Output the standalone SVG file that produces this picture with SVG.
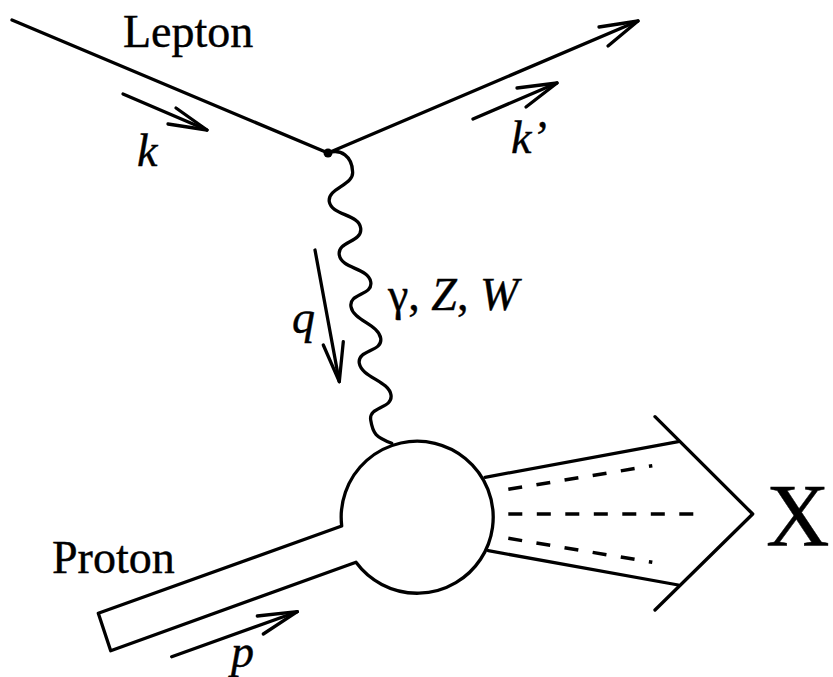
<svg xmlns="http://www.w3.org/2000/svg" width="833" height="677" viewBox="0 0 833 677">
<style>
.ln{fill:none;stroke:#000;stroke-width:3.3;stroke-linecap:round;stroke-linejoin:round}
.ds{fill:none;stroke:#000;stroke-width:3.5;stroke-dasharray:14 14.5}
.t{font-family:"Liberation Serif","Times New Roman",serif;font-size:46px;fill:#000;stroke:#000;stroke-width:0.4}
.i{font-style:italic}
</style>
<rect width="833" height="677" fill="#fff"/>
<g id="connectors">
<g id="lepton-in"><line class="ln" x1="12" y1="20" x2="328" y2="153"/></g>
<g id="lepton-out"><line class="ln" x1="328" y1="153" x2="638" y2="21"/><polyline class="ln" points="599,27 638,21 608,46"/></g>
<g id="boson"><path class="ln" d="M328,153 C341,148 352,157 352.5,171 C355,185 327,188 329.3,201.7 S359,214 360.7,228.3 S337,241 339.3,255 S368,267.7 370.7,281.7 S348.5,292.7 351,306.7 S378.5,324.3 380.7,338.3 S357,349.3 359.3,363.3 S389,381 391,395 S368.5,406 370.7,420 S376,437 391.7,443.3"/></g>
<g id="jet">
<line class="ln" x1="485" y1="477.3" x2="678.3" y2="441.7"/>
<line class="ln" x1="488.3" y1="550.7" x2="678.3" y2="585"/>
<polyline class="ln" points="655,416.7 752.7,514 655,610"/>
<line class="ds" x1="508.3" y1="489.3" x2="652.3" y2="465.7"/>
<line class="ds" x1="508.3" y1="514" x2="697" y2="514"/>
<line class="ds" x1="508.3" y1="538.3" x2="652.3" y2="562.3"/>
</g>
</g>
<g id="vertex"><circle cx="328" cy="153" r="4.5" fill="#000"/></g>
<g id="proton-blob"><path class="ln" d="M341.7,526 L98.3,613.3 L110.7,650.7 L356,562.3 A76,76 0 1 0 341.7,526 Z" fill="#fff"/></g>
<g id="momentum-arrows">
<g id="k-arrow"><line class="ln" x1="123" y1="94" x2="207" y2="130"/><polyline class="ln" points="176,108 207,130 168,124"/></g>
<g id="kp-arrow"><line class="ln" x1="473" y1="119" x2="557" y2="83"/><polyline class="ln" points="517,88 557,83 526,107"/></g>
<g id="q-arrow"><line class="ln" x1="315" y1="250" x2="339.3" y2="381.7"/><polyline class="ln" points="323.3,345 339.3,381.7 343.3,341.7"/></g>
<g id="p-arrow"><line class="ln" x1="171.7" y1="656.7" x2="297.3" y2="611.7"/><polyline class="ln" points="257.3,616 297.3,611.7 263.3,634"/></g>
</g>
<g id="labels">
<text class="t" x="123" y="47">Lepton</text>
<text class="t i" x="137" y="166">k</text>
<text class="t i" x="511" y="153">k’</text>
<text class="t" x="388" y="310">γ, <tspan class="i">Z</tspan>, <tspan class="i">W</tspan></text>
<text class="t i" x="292" y="333">q</text>
<text class="t" x="52" y="573">Proton</text>
<text class="t i" x="231" y="667">p</text>
<text class="t" x="766" y="545" style="font-size:88px">X</text>
</g>
</svg>
